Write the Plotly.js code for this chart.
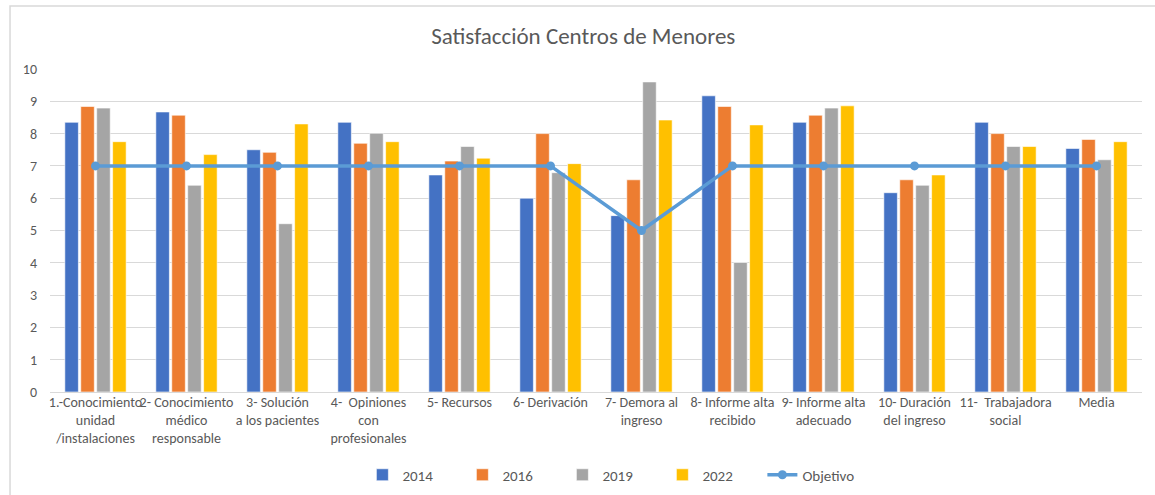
<!DOCTYPE html>
<html>
<head>
<meta charset="utf-8">
<script src="https://cdn.plot.ly/plotly-3.0.1.min.js"></script>
<style>html,body{margin:0;padding:0;background:#fff;}#chart{width:1155px;height:495px;}</style>
</head>
<body>
<div id="chart"></div>
<script>
const categories = [
  "1.-Conocimiento<br>unidad<br>/instalaciones",
  "2- Conocimiento<br>médico<br>responsable",
  "3- Solución<br>a los pacientes",
  "4-  Opiniones<br>con<br>profesionales",
  "5- Recursos",
  "6- Derivación",
  "7- Demora al<br>ingreso",
  "8- Informe alta<br>recibido",
  "9- Informe alta<br>adecuado",
  "10- Duración<br>del ingreso",
  "11-  Trabajadora<br>social",
  "Media"
];
const v2014 = [8.35, 8.67, 7.50, 8.35, 6.72, 6.00, 5.46, 9.17, 8.35, 6.17, 8.35, 7.54];
const v2016 = [8.84, 8.57, 7.42, 7.70, 7.15, 8.00, 6.57, 8.84, 8.57, 6.57, 8.00, 7.82];
const v2019 = [8.79, 6.40, 5.21, 8.01, 7.60, 6.79, 9.60, 4.01, 8.79, 6.40, 7.60, 7.19];
const v2022 = [7.75, 7.35, 8.30, 7.75, 7.24, 7.07, 8.42, 8.27, 8.86, 6.72, 7.60, 7.75];
const objetivo = [7, 7, 7, 7, 7, 7, 5, 7, 7, 7, 7, 7];
const seriesNames = ["2014", "2016", "2019", "2022"];
const yTicks = [0,1,2,3,4,5,6,7,8,9,10];

const colors = ["#4472C4", "#ED7D31", "#A5A5A5", "#FFC000"];
const font = "Calibri, Carlito, Lato, 'Liberation Sans', sans-serif";
const values = [v2014, v2016, v2019, v2022];

const traces = values.map((v, i) => ({
  type: "bar",
  name: seriesNames[i],
  x: categories,
  y: v,
  marker: {color: colors[i], line: {color: "#ffffff", width: 0.6}},
  hoverinfo: "x+y+name"
}));
traces.push({
  type: "scatter",
  mode: "lines+markers",
  name: "Objetivo",
  x: categories,
  y: objetivo,
  line: {color: "#5B9BD5", width: 3.5},
  marker: {color: "#5B9BD5", size: 9}
});

const layout = {
  width: 1155,
  height: 495,
  paper_bgcolor: "#ffffff",
  plot_bgcolor: "#ffffff",
  margin: {l: 50, r: 13, t: 69, b: 103, autoexpand: false},
  font: {family: font, size: 14, color: "#595959"},
  title: {
    text: "Satisfacción Centros de Menores",
    font: {family: font, size: 23, color: "#595959"},
    x: 0.505, xanchor: "center", y: 0.927, yanchor: "middle"
  },
  barmode: "group",
  bargap: 0.3,
  bargroupgap: 0.15,
  showlegend: true,
  legend: {
    orientation: "h",
    x: 0.515, xanchor: "center",
    y: -0.257, yanchor: "middle",
    font: {family: font, size: 15, color: "#595959"},
    traceorder: "normal",
    entrywidth: 55,
    entrywidthmode: "pixels",
    itemwidth: 30
  },
  xaxis: {
    type: "category",
    range: [-0.5, 11.5],
    tickangle: 0,
    showgrid: false,
    showline: false,
    ticks: "",
    tickfont: {family: font, size: 14, color: "#595959"},
    automargin: false
  },
  yaxis: {
    range: [0, 10],
    tickvals: yTicks,
    ticktext: yTicks.map(String),
    showgrid: true,
    gridcolor: "#D9D9D9",
    gridwidth: 1,
    zeroline: true,
    zerolinecolor: "#D9D9D9",
    zerolinewidth: 1,
    showline: false,
    ticks: "",
    ticklabelstandoff: 12,
    tickfont: {family: font, size: 14, color: "#595959"},
    automargin: false
  },
  shapes: [{
    type: "rect", xref: "paper", yref: "paper",
    x0: -0.0366, x1: 1.02, y0: -0.34, y1: 1.195,
    line: {color: "#D9D9D9", width: 1.5},
    fillcolor: "rgba(0,0,0,0)", layer: "below"
  }]
};

Plotly.newPlot("chart", traces, layout, {displayModeBar: false, staticPlot: true});
</script>
</body>
</html>
